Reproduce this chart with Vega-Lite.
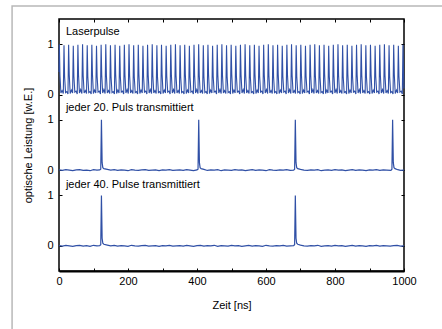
{
"$schema": "https://vega.github.io/schema/vega-lite/v6.json",
"width": 345, "height": 252,
"autosize": "none",
"padding": {"left": 59, "top": 19, "right": 38, "bottom": 58},
"config": {
  "font": "Liberation Sans",
  "view": {"stroke": "black", "strokeWidth": 1.5},
  "axis": {"grid": false, "labelFont": "Liberation Sans", "labelFontSize": 11, "labelColor": "black", "titleFont": "Liberation Sans", "titleFontSize": 11, "titleFontWeight": "normal", "titleColor": "black", "tickColor": "black", "domainColor": "black", "tickWidth": 1}
},
"datasets": {
"laser": [
{"t":0,"y":3.45},{"t":1,"y":4},{"t":2.8,"y":3.38},{"t":5.5,"y":3.03},{"t":9,"y":3.08},{"t":12.5,"y":3.02},
{"t":14.5,"y":3.98},{"t":16.3,"y":3.35},{"t":19,"y":3.04},{"t":22.5,"y":3.06},{"t":26,"y":3.01},
{"t":27.9,"y":3.99},{"t":29.7,"y":3.4},{"t":32.4,"y":3.02},{"t":35.9,"y":3.09},{"t":39.4,"y":3.03},
{"t":41.4,"y":3.97},{"t":43.2,"y":3.36},{"t":45.9,"y":3.05},{"t":49.4,"y":3.07},{"t":52.9,"y":3.01},
{"t":54.8,"y":3.99},{"t":56.6,"y":3.39},{"t":59.3,"y":3.03},{"t":62.8,"y":3.1},{"t":66.3,"y":3.02},
{"t":68.3,"y":4},{"t":70.1,"y":3.38},{"t":72.8,"y":3.03},{"t":76.3,"y":3.08},{"t":79.8,"y":3.02},
{"t":81.8,"y":3.98},{"t":83.6,"y":3.35},{"t":86.3,"y":3.04},{"t":89.8,"y":3.06},{"t":93.3,"y":3.01},
{"t":95.2,"y":3.99},{"t":97,"y":3.4},{"t":99.7,"y":3.02},{"t":103.2,"y":3.09},{"t":106.7,"y":3.03},
{"t":108.7,"y":3.97},{"t":110.5,"y":3.36},{"t":113.2,"y":3.05},{"t":116.7,"y":3.07},{"t":120.2,"y":3.01},
{"t":122.1,"y":3.99},{"t":123.9,"y":3.39},{"t":126.6,"y":3.03},{"t":130.1,"y":3.1},{"t":133.6,"y":3.02},
{"t":135.6,"y":4},{"t":137.4,"y":3.38},{"t":140.1,"y":3.03},{"t":143.6,"y":3.08},{"t":147.1,"y":3.02},
{"t":149.1,"y":3.98},{"t":150.9,"y":3.35},{"t":153.6,"y":3.04},{"t":157.1,"y":3.06},{"t":160.6,"y":3.01},
{"t":162.5,"y":3.99},{"t":164.3,"y":3.4},{"t":167,"y":3.02},{"t":170.5,"y":3.09},{"t":174,"y":3.03},
{"t":176,"y":3.97},{"t":177.8,"y":3.36},{"t":180.5,"y":3.05},{"t":184,"y":3.07},{"t":187.5,"y":3.01},
{"t":189.4,"y":3.99},{"t":191.2,"y":3.39},{"t":193.9,"y":3.03},{"t":197.4,"y":3.1},{"t":200.9,"y":3.02},
{"t":202.9,"y":4},{"t":204.7,"y":3.38},{"t":207.4,"y":3.03},{"t":210.9,"y":3.08},{"t":214.4,"y":3.02},
{"t":216.4,"y":3.98},{"t":218.2,"y":3.35},{"t":220.9,"y":3.04},{"t":224.4,"y":3.06},{"t":227.9,"y":3.01},
{"t":229.8,"y":3.99},{"t":231.6,"y":3.4},{"t":234.3,"y":3.02},{"t":237.8,"y":3.09},{"t":241.3,"y":3.03},
{"t":243.3,"y":3.97},{"t":245.1,"y":3.36},{"t":247.8,"y":3.05},{"t":251.3,"y":3.07},{"t":254.8,"y":3.01},
{"t":256.7,"y":3.99},{"t":258.5,"y":3.39},{"t":261.2,"y":3.03},{"t":264.7,"y":3.1},{"t":268.2,"y":3.02},
{"t":270.2,"y":4},{"t":272,"y":3.38},{"t":274.7,"y":3.03},{"t":278.2,"y":3.08},{"t":281.7,"y":3.02},
{"t":283.7,"y":3.98},{"t":285.5,"y":3.35},{"t":288.2,"y":3.04},{"t":291.7,"y":3.06},{"t":295.2,"y":3.01},
{"t":297.1,"y":3.99},{"t":298.9,"y":3.4},{"t":301.6,"y":3.02},{"t":305.1,"y":3.09},{"t":308.6,"y":3.03},
{"t":310.6,"y":3.97},{"t":312.4,"y":3.36},{"t":315.1,"y":3.05},{"t":318.6,"y":3.07},{"t":322.1,"y":3.01},
{"t":324,"y":3.99},{"t":325.8,"y":3.39},{"t":328.5,"y":3.03},{"t":332,"y":3.1},{"t":335.5,"y":3.02},
{"t":337.5,"y":4},{"t":339.3,"y":3.38},{"t":342,"y":3.03},{"t":345.5,"y":3.08},{"t":349,"y":3.02},
{"t":351,"y":3.98},{"t":352.8,"y":3.35},{"t":355.5,"y":3.04},{"t":359,"y":3.06},{"t":362.5,"y":3.01},
{"t":364.4,"y":3.99},{"t":366.2,"y":3.4},{"t":368.9,"y":3.02},{"t":372.4,"y":3.09},{"t":375.9,"y":3.03},
{"t":377.9,"y":3.97},{"t":379.7,"y":3.36},{"t":382.4,"y":3.05},{"t":385.9,"y":3.07},{"t":389.4,"y":3.01},
{"t":391.3,"y":3.99},{"t":393.1,"y":3.39},{"t":395.8,"y":3.03},{"t":399.3,"y":3.1},{"t":402.8,"y":3.02},
{"t":404.8,"y":4},{"t":406.6,"y":3.38},{"t":409.3,"y":3.03},{"t":412.8,"y":3.08},{"t":416.3,"y":3.02},
{"t":418.3,"y":3.98},{"t":420.1,"y":3.35},{"t":422.8,"y":3.04},{"t":426.3,"y":3.06},{"t":429.8,"y":3.01},
{"t":431.7,"y":3.99},{"t":433.5,"y":3.4},{"t":436.2,"y":3.02},{"t":439.7,"y":3.09},{"t":443.2,"y":3.03},
{"t":445.2,"y":3.97},{"t":447,"y":3.36},{"t":449.7,"y":3.05},{"t":453.2,"y":3.07},{"t":456.7,"y":3.01},
{"t":458.6,"y":3.99},{"t":460.4,"y":3.39},{"t":463.1,"y":3.03},{"t":466.6,"y":3.1},{"t":470.1,"y":3.02},
{"t":472.1,"y":4},{"t":473.9,"y":3.38},{"t":476.6,"y":3.03},{"t":480.1,"y":3.08},{"t":483.6,"y":3.02},
{"t":485.6,"y":3.98},{"t":487.4,"y":3.35},{"t":490.1,"y":3.04},{"t":493.6,"y":3.06},{"t":497.1,"y":3.01},
{"t":499,"y":3.99},{"t":500.8,"y":3.4},{"t":503.5,"y":3.02},{"t":507,"y":3.09},{"t":510.5,"y":3.03},
{"t":512.5,"y":3.97},{"t":514.3,"y":3.36},{"t":517,"y":3.05},{"t":520.5,"y":3.07},{"t":524,"y":3.01},
{"t":525.9,"y":3.99},{"t":527.7,"y":3.39},{"t":530.4,"y":3.03},{"t":533.9,"y":3.1},{"t":537.4,"y":3.02},
{"t":539.4,"y":4},{"t":541.2,"y":3.38},{"t":543.9,"y":3.03},{"t":547.4,"y":3.08},{"t":550.9,"y":3.02},
{"t":552.9,"y":3.98},{"t":554.7,"y":3.35},{"t":557.4,"y":3.04},{"t":560.9,"y":3.06},{"t":564.4,"y":3.01},
{"t":566.3,"y":3.99},{"t":568.1,"y":3.4},{"t":570.8,"y":3.02},{"t":574.3,"y":3.09},{"t":577.8,"y":3.03},
{"t":579.8,"y":3.97},{"t":581.6,"y":3.36},{"t":584.3,"y":3.05},{"t":587.8,"y":3.07},{"t":591.3,"y":3.01},
{"t":593.2,"y":3.99},{"t":595,"y":3.39},{"t":597.7,"y":3.03},{"t":601.2,"y":3.1},{"t":604.7,"y":3.02},
{"t":606.7,"y":4},{"t":608.5,"y":3.38},{"t":611.2,"y":3.03},{"t":614.7,"y":3.08},{"t":618.2,"y":3.02},
{"t":620.2,"y":3.98},{"t":622,"y":3.35},{"t":624.7,"y":3.04},{"t":628.2,"y":3.06},{"t":631.7,"y":3.01},
{"t":633.6,"y":3.99},{"t":635.4,"y":3.4},{"t":638.1,"y":3.02},{"t":641.6,"y":3.09},{"t":645.1,"y":3.03},
{"t":647.1,"y":3.97},{"t":648.9,"y":3.36},{"t":651.6,"y":3.05},{"t":655.1,"y":3.07},{"t":658.6,"y":3.01},
{"t":660.5,"y":3.99},{"t":662.3,"y":3.39},{"t":665,"y":3.03},{"t":668.5,"y":3.1},{"t":672,"y":3.02},
{"t":674,"y":4},{"t":675.8,"y":3.38},{"t":678.5,"y":3.03},{"t":682,"y":3.08},{"t":685.5,"y":3.02},
{"t":687.5,"y":3.98},{"t":689.3,"y":3.35},{"t":692,"y":3.04},{"t":695.5,"y":3.06},{"t":699,"y":3.01},
{"t":700.9,"y":3.99},{"t":702.7,"y":3.4},{"t":705.4,"y":3.02},{"t":708.9,"y":3.09},{"t":712.4,"y":3.03},
{"t":714.4,"y":3.97},{"t":716.2,"y":3.36},{"t":718.9,"y":3.05},{"t":722.4,"y":3.07},{"t":725.9,"y":3.01},
{"t":727.8,"y":3.99},{"t":729.6,"y":3.39},{"t":732.3,"y":3.03},{"t":735.8,"y":3.1},{"t":739.3,"y":3.02},
{"t":741.3,"y":4},{"t":743.1,"y":3.38},{"t":745.8,"y":3.03},{"t":749.3,"y":3.08},{"t":752.8,"y":3.02},
{"t":754.8,"y":3.98},{"t":756.6,"y":3.35},{"t":759.3,"y":3.04},{"t":762.8,"y":3.06},{"t":766.3,"y":3.01},
{"t":768.2,"y":3.99},{"t":770,"y":3.4},{"t":772.7,"y":3.02},{"t":776.2,"y":3.09},{"t":779.7,"y":3.03},
{"t":781.7,"y":3.97},{"t":783.5,"y":3.36},{"t":786.2,"y":3.05},{"t":789.7,"y":3.07},{"t":793.2,"y":3.01},
{"t":795.1,"y":3.99},{"t":796.9,"y":3.39},{"t":799.6,"y":3.03},{"t":803.1,"y":3.1},{"t":806.6,"y":3.02},
{"t":808.6,"y":4},{"t":810.4,"y":3.38},{"t":813.1,"y":3.03},{"t":816.6,"y":3.08},{"t":820.1,"y":3.02},
{"t":822.1,"y":3.98},{"t":823.9,"y":3.35},{"t":826.6,"y":3.04},{"t":830.1,"y":3.06},{"t":833.6,"y":3.01},
{"t":835.5,"y":3.99},{"t":837.3,"y":3.4},{"t":840,"y":3.02},{"t":843.5,"y":3.09},{"t":847,"y":3.03},
{"t":849,"y":3.97},{"t":850.8,"y":3.36},{"t":853.5,"y":3.05},{"t":857,"y":3.07},{"t":860.5,"y":3.01},
{"t":862.4,"y":3.99},{"t":864.2,"y":3.39},{"t":866.9,"y":3.03},{"t":870.4,"y":3.1},{"t":873.9,"y":3.02},
{"t":875.9,"y":4},{"t":877.7,"y":3.38},{"t":880.4,"y":3.03},{"t":883.9,"y":3.08},{"t":887.4,"y":3.02},
{"t":889.4,"y":3.98},{"t":891.2,"y":3.35},{"t":893.9,"y":3.04},{"t":897.4,"y":3.06},{"t":900.9,"y":3.01},
{"t":902.8,"y":3.99},{"t":904.6,"y":3.4},{"t":907.3,"y":3.02},{"t":910.8,"y":3.09},{"t":914.3,"y":3.03},
{"t":916.3,"y":3.97},{"t":918.1,"y":3.36},{"t":920.8,"y":3.05},{"t":924.3,"y":3.07},{"t":927.8,"y":3.01},
{"t":929.7,"y":3.99},{"t":931.5,"y":3.39},{"t":934.2,"y":3.03},{"t":937.7,"y":3.1},{"t":941.2,"y":3.02},
{"t":943.2,"y":4},{"t":945,"y":3.38},{"t":947.7,"y":3.03},{"t":951.2,"y":3.08},{"t":954.7,"y":3.02},
{"t":956.7,"y":3.98},{"t":958.5,"y":3.35},{"t":961.2,"y":3.04},{"t":964.7,"y":3.06},{"t":968.2,"y":3.01},
{"t":970.1,"y":3.99},{"t":971.9,"y":3.4},{"t":974.6,"y":3.02},{"t":978.1,"y":3.09},{"t":981.6,"y":3.03},
{"t":983.6,"y":3.97},{"t":985.4,"y":3.36},{"t":988.1,"y":3.05},{"t":991.6,"y":3.07},{"t":995.1,"y":3.01},
{"t":997,"y":3.99},{"t":998.8,"y":3.39},{"t":1000,"y":3.12}
],
"p20": [
{"t":0,"y":1.505},{"t":10,"y":1.495},{"t":20,"y":1.51},{"t":30,"y":1.5},{"t":40,"y":1.49},{"t":50,"y":1.505},{"t":60,"y":1.51},{"t":70,"y":1.495},{"t":80,"y":1.5},{"t":90,"y":1.49},{"t":100,"y":1.51},{"t":110,"y":1.5},{"t":118,"y":1.505},
{"t":121,"y":1.52},{"t":123,"y":2.5},{"t":125,"y":1.65},{"t":127,"y":1.55},{"t":130,"y":1.53},
{"t":140,"y":1.515},{"t":150,"y":1.5},{"t":160,"y":1.51},{"t":170,"y":1.495},{"t":180,"y":1.505},{"t":190,"y":1.5},{"t":200,"y":1.49},{"t":210,"y":1.51},{"t":220,"y":1.5},{"t":230,"y":1.495},{"t":240,"y":1.505},{"t":250,"y":1.51},{"t":260,"y":1.495},{"t":270,"y":1.5},{"t":280,"y":1.505},{"t":290,"y":1.49},{"t":300,"y":1.505},{"t":310,"y":1.5},{"t":320,"y":1.51},{"t":330,"y":1.495},{"t":340,"y":1.5},{"t":350,"y":1.505},{"t":360,"y":1.495},{"t":370,"y":1.51},{"t":380,"y":1.5},{"t":390,"y":1.49},{"t":400,"y":1.505},
{"t":403,"y":1.52},{"t":405,"y":2.5},{"t":407,"y":1.65},{"t":409,"y":1.55},{"t":412,"y":1.53},
{"t":420,"y":1.515},{"t":430,"y":1.495},{"t":440,"y":1.505},{"t":450,"y":1.5},{"t":460,"y":1.51},{"t":470,"y":1.49},{"t":480,"y":1.505},{"t":490,"y":1.5},{"t":500,"y":1.495},{"t":510,"y":1.51},{"t":520,"y":1.5},{"t":530,"y":1.505},{"t":540,"y":1.49},{"t":550,"y":1.5},{"t":560,"y":1.51},{"t":570,"y":1.495},{"t":580,"y":1.505},{"t":590,"y":1.5},{"t":600,"y":1.49},{"t":610,"y":1.51},{"t":620,"y":1.5},{"t":630,"y":1.495},{"t":640,"y":1.505},{"t":650,"y":1.5},{"t":660,"y":1.51},{"t":670,"y":1.495},{"t":680,"y":1.5},
{"t":683,"y":1.52},{"t":685,"y":2.5},{"t":687,"y":1.65},{"t":689,"y":1.55},{"t":692,"y":1.53},
{"t":700,"y":1.515},{"t":710,"y":1.5},{"t":720,"y":1.495},{"t":730,"y":1.505},{"t":740,"y":1.5},{"t":750,"y":1.51},{"t":760,"y":1.49},{"t":770,"y":1.5},{"t":780,"y":1.505},{"t":790,"y":1.495},{"t":800,"y":1.51},{"t":810,"y":1.5},{"t":820,"y":1.505},{"t":830,"y":1.49},{"t":840,"y":1.5},{"t":850,"y":1.51},{"t":860,"y":1.495},{"t":870,"y":1.505},{"t":880,"y":1.5},{"t":890,"y":1.49},{"t":900,"y":1.505},{"t":910,"y":1.5},{"t":920,"y":1.51},{"t":930,"y":1.495},{"t":940,"y":1.505},{"t":950,"y":1.5},{"t":962,"y":1.495},
{"t":965,"y":1.52},{"t":967,"y":2.5},{"t":969,"y":1.65},{"t":971,"y":1.55},{"t":974,"y":1.53},
{"t":982,"y":1.51},{"t":990,"y":1.495},{"t":1000,"y":1.5}
],
"p40": [
{"t":0,"y":0.005},{"t":10,"y":-0.005},{"t":20,"y":0.01},{"t":30,"y":0},{"t":40,"y":-0.01},{"t":50,"y":0.005},{"t":60,"y":0.01},{"t":70,"y":-0.005},{"t":80,"y":0.005},{"t":90,"y":-0.01},{"t":100,"y":0.01},{"t":110,"y":0},{"t":118,"y":0.005},
{"t":121,"y":0.02},{"t":123,"y":1},{"t":125,"y":0.15},{"t":127,"y":0.05},{"t":130,"y":0.03},
{"t":140,"y":0.015},{"t":150,"y":0},{"t":160,"y":0.01},{"t":170,"y":-0.005},{"t":180,"y":0.005},{"t":190,"y":0},{"t":200,"y":-0.01},{"t":210,"y":0.01},{"t":220,"y":0},{"t":230,"y":-0.005},{"t":240,"y":0.005},{"t":250,"y":0.01},{"t":260,"y":-0.005},{"t":270,"y":0},{"t":280,"y":0.005},{"t":290,"y":-0.01},{"t":300,"y":0.005},{"t":310,"y":0},{"t":320,"y":0.01},{"t":330,"y":-0.005},{"t":340,"y":0},{"t":350,"y":0.005},{"t":360,"y":-0.005},{"t":370,"y":0.01},{"t":380,"y":0},{"t":390,"y":-0.01},{"t":400,"y":0.005},{"t":410,"y":0.01},{"t":420,"y":-0.005},{"t":430,"y":0.005},{"t":440,"y":0},{"t":450,"y":0.01},{"t":460,"y":-0.01},{"t":470,"y":0.005},{"t":480,"y":0},{"t":490,"y":-0.005},{"t":500,"y":0.01},{"t":510,"y":0},{"t":520,"y":0.005},{"t":530,"y":-0.01},{"t":540,"y":0},{"t":550,"y":0.01},{"t":560,"y":-0.005},{"t":570,"y":0.005},{"t":580,"y":0},{"t":590,"y":-0.01},{"t":600,"y":0.01},{"t":610,"y":0},{"t":620,"y":-0.005},{"t":630,"y":0.005},{"t":640,"y":0},{"t":650,"y":0.01},{"t":660,"y":-0.005},{"t":670,"y":0},{"t":680,"y":0.005},
{"t":683,"y":0.02},{"t":685,"y":1},{"t":687,"y":0.15},{"t":689,"y":0.05},{"t":692,"y":0.03},
{"t":700,"y":0.015},{"t":710,"y":0},{"t":720,"y":-0.005},{"t":730,"y":0.005},{"t":740,"y":0},{"t":750,"y":0.01},{"t":760,"y":-0.01},{"t":770,"y":0},{"t":780,"y":0.005},{"t":790,"y":-0.005},{"t":800,"y":0.01},{"t":810,"y":0},{"t":820,"y":0.005},{"t":830,"y":-0.01},{"t":840,"y":0},{"t":850,"y":0.01},{"t":860,"y":-0.005},{"t":870,"y":0.005},{"t":880,"y":0},{"t":890,"y":-0.01},{"t":900,"y":0.005},{"t":910,"y":0},{"t":920,"y":0.01},{"t":930,"y":-0.005},{"t":940,"y":0.005},{"t":950,"y":0},{"t":960,"y":-0.005},{"t":970,"y":0.005},{"t":980,"y":0.01},{"t":990,"y":-0.005},{"t":1000,"y":0}
],
"labels": [
{"t":20,"y":4.24,"label":"Laserpulse"},
{"t":20,"y":2.73,"label":"jeder 20. Puls transmittiert"},
{"t":20,"y":1.21,"label":"jeder 40. Pulse transmittiert"}
]
},
"layer": [
{
  "data": {"values": [{}]},
  "mark": {"type": "rect", "filled": false, "stroke": "#b8b8b8", "strokeWidth": 1.5, "clip": false},
  "encoding": {
    "x": {"datum": -136, "type": "quantitative", "scale": {"domain": [0, 1000], "nice": false}, "axis": null},
    "x2": {"datum": 1300},
    "y": {"datum": 4.76, "type": "quantitative", "scale": {"domain": [-0.5, 4.5], "nice": false, "zero": false}, "axis": null},
    "y2": {"datum": -3}
  }
},
{
  "data": {"name": "laser"},
  "mark": {"type": "line", "color": "#3050a6", "strokeWidth": 1.1},
  "encoding": {
    "x": {"field": "t", "type": "quantitative", "scale": {"domain": [0, 1000], "nice": false},
      "axis": {"orient": "bottom", "title": "Zeit [ns]", "format": "d", "values": [0,100,200,300,400,500,600,700,800,900,1000], "labelExpr": "datum.value % 200 == 0 ? datum.label : ''", "tickSize": -3, "labelPadding": 7, "titlePadding": 13, "domainWidth": 2, "labelFlush": false, "labelOverlap": false}},
    "y": {"field": "y", "type": "quantitative", "scale": {"domain": [-0.5, 4.5], "nice": false, "zero": false},
      "axis": {"orient": "left", "title": "optische Leistung [w.E.]", "values": [0,1,1.5,2.5,3,4], "labelExpr": "(datum.value == 0 || datum.value == 1.5 || datum.value == 3) ? '0' : '1'", "tickSize": -3, "labelPadding": 9, "titlePadding": 13, "domain": false, "labelOverlap": false}}
  }
},
{
  "data": {"name": "p20"},
  "mark": {"type": "line", "color": "#3050a6", "strokeWidth": 1.2},
  "encoding": {
    "x": {"field": "t", "type": "quantitative", "scale": {"domain": [0, 1000], "nice": false}, "axis": null},
    "y": {"field": "y", "type": "quantitative", "scale": {"domain": [-0.5, 4.5], "nice": false, "zero": false}, "axis": null}
  }
},
{
  "data": {"name": "p40"},
  "mark": {"type": "line", "color": "#3050a6", "strokeWidth": 1.2},
  "encoding": {
    "x": {"field": "t", "type": "quantitative", "scale": {"domain": [0, 1000], "nice": false}, "axis": null},
    "y": {"field": "y", "type": "quantitative", "scale": {"domain": [-0.5, 4.5], "nice": false, "zero": false}, "axis": null}
  }
},
{
  "data": {"name": "labels"},
  "mark": {"type": "text", "align": "left", "baseline": "middle", "fontSize": 11, "font": "Liberation Sans", "color": "black"},
  "encoding": {
    "x": {"field": "t", "type": "quantitative", "scale": {"domain": [0, 1000], "nice": false},
      "axis": {"orient": "top", "title": null, "labels": false, "values": [0,100,200,300,400,500,600,700,800,900,1000], "tickSize": -3, "domain": false}},
    "y": {"field": "y", "type": "quantitative", "scale": {"domain": [-0.5, 4.5], "nice": false, "zero": false},
      "axis": {"orient": "right", "title": null, "labels": false, "values": [0,1,1.5,2.5,3,4], "tickSize": -3, "domain": false}},
    "text": {"field": "label"}
  }
}
],
"resolve": {"axis": {"x": "independent", "y": "independent"}}
}
